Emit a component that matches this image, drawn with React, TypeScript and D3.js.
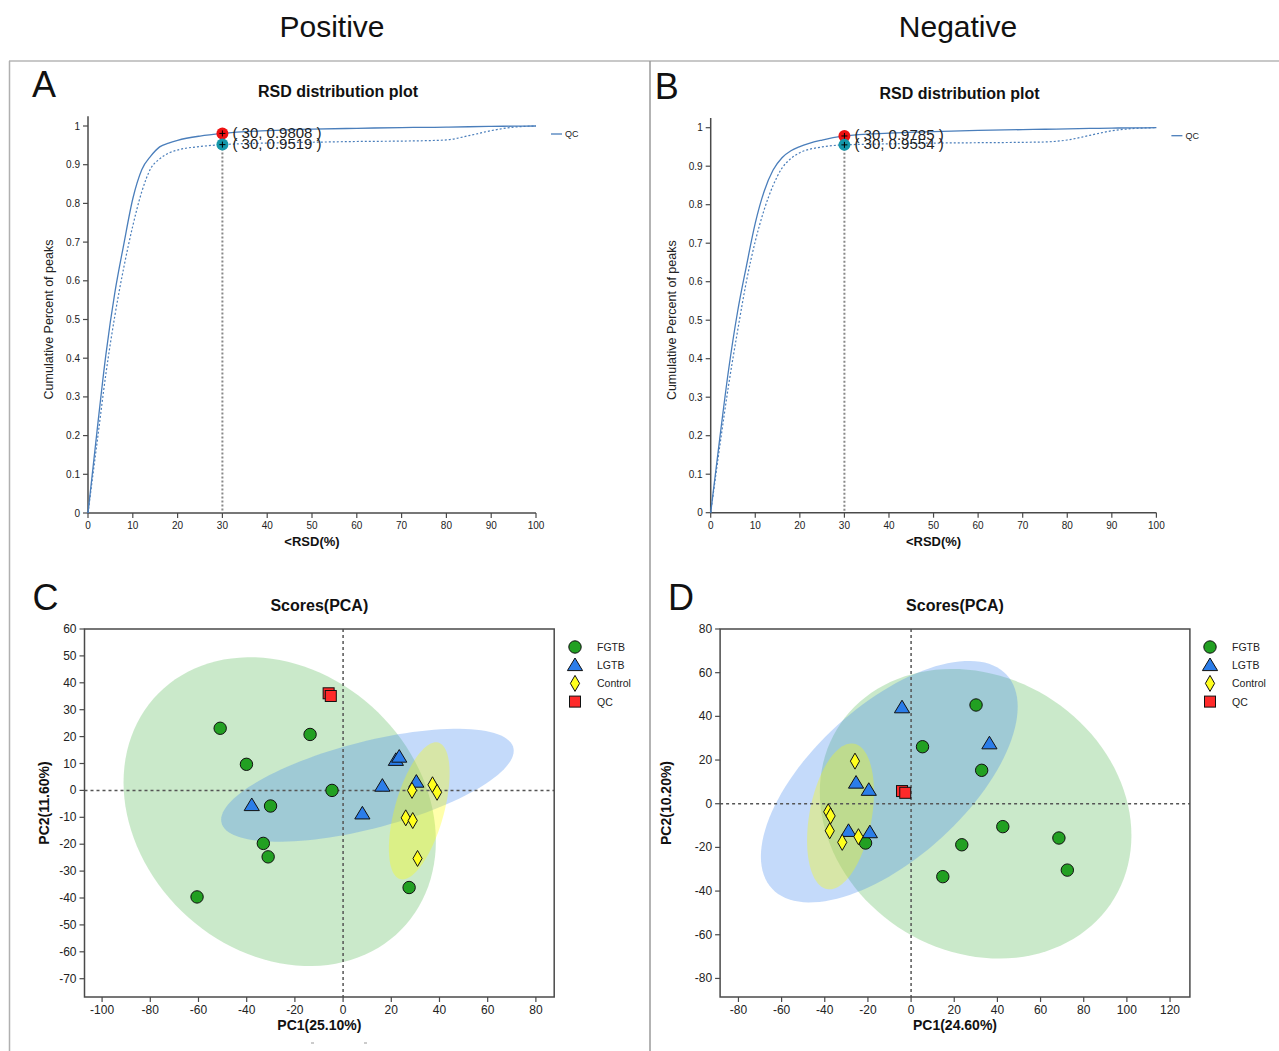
import React from 'react';
import * as d3 from 'd3';

const FONT = '"Liberation Sans", Arial, Helvetica, sans-serif';

// ---------- RSD distribution data ----------
const rsdGrid = [0, 2, 4, 6, 8, 10, 12, 14, 16, 18, 20, 25, 30, 40, 50, 60, 70, 75, 80, 85, 90, 95, 100];
const posSolid = [0, 0.21, 0.41, 0.57, 0.695, 0.812, 0.887, 0.922, 0.946, 0.956, 0.963, 0.974, 0.9808, 0.988, 0.992, 0.994, 0.996, 0.9965, 0.997, 0.998, 0.999, 0.9995, 1];
const posDotted = [0, 0.18, 0.36, 0.51, 0.635, 0.742, 0.83, 0.89, 0.915, 0.93, 0.938, 0.947, 0.9519, 0.956, 0.958, 0.96, 0.961, 0.962, 0.964, 0.975, 0.988, 0.997, 1];
const negSolid = [0, 0.19, 0.37, 0.52, 0.64, 0.752, 0.835, 0.89, 0.922, 0.94, 0.951, 0.968, 0.9785, 0.986, 0.99, 0.993, 0.995, 0.996, 0.997, 0.998, 0.999, 0.9995, 1];
const negDotted = [0, 0.17, 0.33, 0.47, 0.6, 0.705, 0.787, 0.85, 0.895, 0.92, 0.935, 0.95, 0.9554, 0.958, 0.96, 0.961, 0.962, 0.963, 0.968, 0.98, 0.992, 0.998, 1];
const rsdXTicks = [0, 10, 20, 30, 40, 50, 60, 70, 80, 90, 100];
const rsdYTicks = [0, 0.1, 0.2, 0.3, 0.4, 0.5, 0.6, 0.7, 0.8, 0.9, 1];

// ---------- PCA data (Positive) ----------
const posFGTB: [number, number][] = [[-51, 23.1], [-13.7, 20.8], [-40.1, 9.7], [-4.6, 0], [-30.1, -5.8], [-33.1, -19.7], [-31.1, -24.7], [-60.6, -39.6], [27.4, -36.1]];
const posLGTB: [number, number][] = [[-37.9, -5.5], [8, -8.6], [16.3, 1.7], [21.9, 11.3], [23.3, 12.5], [30.4, 3.2]];
const posControl: [number, number][] = [[28.6, 0], [37.1, 2.1], [39, -0.7], [26, -10.2], [28.9, -11.2], [30.9, -25.3]];
const posQC: [number, number][] = [[-6, 36.1], [-5.1, 35.1]];
const posEllipses = [
  { group: 'FGTB', cx: -26.3, cy: -7.9, sx: 64.8, sy: 57.4, r: -0.19 },
  { group: 'LGTB', cx: 10.1, cy: 1.9, sx: 60.7, sy: 21.0, r: 0.61 },
  { group: 'Control', cx: 31.6, cy: -7.6, sx: 12.6, sy: 25.5, r: 0.55 },
];
const posXTicks = [-100, -80, -60, -40, -20, 0, 20, 40, 60, 80];
const posYTicks = [60, 50, 40, 30, 20, 10, 0, -10, -20, -30, -40, -50, -60, -70];

// ---------- PCA data (Negative) ----------
const negFGTB: [number, number][] = [[30.1, 45.2], [5.3, 26.1], [32.7, 15.3], [42.5, -10.5], [23.5, -18.8], [68.5, -15.7], [72.4, -30.4], [14.7, -33.4], [-21.1, -18]];
const negLGTB: [number, number][] = [[-4.2, 44.1], [36.3, 27.6], [-25.5, 9.6], [-19.6, 6.3], [-29, -12.5], [-19.1, -13.1]];
const negControl: [number, number][] = [[-26, 19.5], [-38.4, -3.7], [-37.3, -5.6], [-37.7, -12.4], [-31.9, -17.7], [-24.4, -15.1]];
const negQC: [number, number][] = [[-4.2, 5.8], [-2.7, 5.0]];
const negEllipses = [
  { group: 'FGTB', cx: 29.9, cy: -4.6, sx: 72.2, sy: 66.3, r: -0.15 },
  { group: 'LGTB', cx: -10.1, cy: 10.1, sx: 59.5, sy: 55.3, r: 0.62 },
  { group: 'Control', cx: -32.7, cy: -5.8, sx: 15.5, sy: 33.4, r: 0.33 },
];
const negXTicks = [-80, -60, -40, -20, 0, 20, 40, 60, 80, 100, 120];
const negYTicks = [80, 60, 40, 20, 0, -20, -40, -60, -80];

const groups = ['FGTB', 'LGTB', 'Control', 'QC'];
const groupFill: Record<string, string> = { FGTB: '#22a022', LGTB: '#2b7de9', Control: '#ffff1e', QC: '#ff2a2a' };
const ellipseFill: Record<string, string> = { FGTB: '#33aa33', LGTB: '#3d85f0', Control: '#ffff00' };
const ellipseOpacity: Record<string, number> = { FGTB: 0.26, LGTB: 0.3, Control: 0.33 };

const AXIS = '#4a4a4a';
const CURVE = '#4a7ebb';

function fmtY(d: number) {
  return String(Math.round(d * 10) / 10);
}

type RsdProps = {
  label: string;
  xr: [number, number];
  yr: [number, number];
  solid: number[];
  dotted: number[];
  vSolid: number;
  vDotted: number;
};

function RsdPanel({ label, xr, yr, solid, dotted, vSolid, vDotted }: RsdProps) {
  const x = d3.scaleLinear().domain([0, 100]).range(xr);
  const y = d3.scaleLinear().domain([0, 1]).range(yr);
  const line = d3
    .line<number>()
    .x((_, i) => x(rsdGrid[i]))
    .y((d) => y(d))
    .curve(d3.curveMonotoneX);
  const cx = x(30);
  const plotCx = (xr[0] + xr[1]) / 2;
  const cross = (py: number) => (
    <g stroke="#000" strokeWidth={1}>
      <line x1={cx - 3} x2={cx + 3} y1={py} y2={py} />
      <line x1={cx} x2={cx} y1={py - 3} y2={py + 3} />
    </g>
  );
  return (
    <g fontFamily={FONT}>
      <text x={xr[0] - 56} y={y(1) - 29} fontSize={36} fill="#111">{label}</text>
      <text x={plotCx + 26} y={y(1) - 29} fontSize={16} fontWeight="bold" textAnchor="middle" fill="#111">RSD distribution plot</text>
      {/* axes */}
      <line x1={xr[0]} x2={xr[0]} y1={y(1.025)} y2={y(0)} stroke={AXIS} strokeWidth={1.5} />
      <line x1={xr[0]} x2={xr[1]} y1={y(0)} y2={y(0)} stroke={AXIS} strokeWidth={1.5} />
      {rsdYTicks.map((t) => (
        <g key={'y' + t}>
          <line x1={xr[0] - 5} x2={xr[0]} y1={y(t)} y2={y(t)} stroke={AXIS} strokeWidth={1.2} />
          <text x={xr[0] - 8} y={y(t) + 3.5} fontSize={10} textAnchor="end" fill="#222">{fmtY(t)}</text>
        </g>
      ))}
      {rsdXTicks.map((t) => (
        <g key={'x' + t}>
          <line x1={x(t)} x2={x(t)} y1={y(0)} y2={y(0) + 5} stroke={AXIS} strokeWidth={1.2} />
          <text x={x(t)} y={y(0) + 16} fontSize={10} textAnchor="middle" fill="#222">{t}</text>
        </g>
      ))}
      <text x={plotCx} y={y(0) + 33} fontSize={13} fontWeight="bold" textAnchor="middle" fill="#111">&lt;RSD(%)</text>
      <text transform={`translate(${xr[0] - 35},${y(0.5)}) rotate(-90)`} fontSize={12.5} textAnchor="middle" fill="#222">Cumulative Percent of peaks</text>
      {/* vertical guide */}
      <line x1={cx} x2={cx} y1={y(vDotted)} y2={y(0)} stroke="#888" strokeWidth={2} strokeDasharray="2,2" />
      {/* curves */}
      <path d={line(dotted) || ''} fill="none" stroke={CURVE} strokeWidth={1.2} strokeDasharray="2,2" />
      <path d={line(solid) || ''} fill="none" stroke={CURVE} strokeWidth={1.3} />
      {/* points */}
      <circle cx={cx} cy={y(vSolid)} r={6} fill="#ee1111" />
      {cross(y(vSolid))}
      <circle cx={cx} cy={y(vDotted)} r={6} fill="#1597aa" />
      {cross(y(vDotted))}
      <text x={cx + 10} y={y(vSolid) + 4.5} fontSize={15} fill="#222">{`( 30, ${vSolid.toFixed(4)} )`}</text>
      <text x={cx + 10} y={y(vDotted) + 4.5} fontSize={15} fill="#222">{`( 30, ${vDotted.toFixed(4)} )`}</text>
      {/* legend */}
      <line x1={xr[1] + 15} x2={xr[1] + 26} y1={y(1) + 8} y2={y(1) + 8} stroke={CURVE} strokeWidth={1.3} />
      <text x={xr[1] + 29} y={y(1) + 11} fontSize={9} fill="#222">QC</text>
    </g>
  );
}

function Marker({ group, x, y }: { group: string; x: number; y: number }) {
  const fill = groupFill[group];
  const common = { fill, stroke: '#111', strokeWidth: 1 };
  if (group === 'FGTB') return <circle cx={x} cy={y} r={6.2} {...common} />;
  if (group === 'LGTB')
    return <polygon points={`${x},${y - 7.2} ${x + 7.6},${y + 5.4} ${x - 7.6},${y + 5.4}`} {...common} />;
  if (group === 'Control')
    return <polygon points={`${x},${y - 8} ${x + 4.6},${y} ${x},${y + 8} ${x - 4.6},${y}`} {...common} />;
  return <rect x={x - 5.5} y={y - 5.5} width={11} height={11} {...common} />;
}

type PcaProps = {
  label: string;
  frame: { l: number; r: number; t: number; b: number };
  xDomain: [number, number];
  yDomain: [number, number];
  xTicks: number[];
  yTicks: number[];
  series: Record<string, [number, number][]>;
  ellipses: { group: string; cx: number; cy: number; sx: number; sy: number; r: number }[];
  xLabel: string;
  yLabel: string;
  legendX: number;
  yLabelX: number;
};

function PcaPanel({ label, frame, xDomain, yDomain, xTicks, yTicks, series, ellipses, xLabel, yLabel, legendX, yLabelX }: PcaProps) {
  const x = d3.scaleLinear().domain(xDomain).range([frame.l, frame.r]);
  const y = d3.scaleLinear().domain(yDomain).range([frame.b, frame.t]);
  const ts = d3.range(0, 121).map((i) => (i / 120) * Math.PI * 2);
  const ellLine = d3.line<[number, number]>().curve(d3.curveLinearClosed);
  const cxMid = (frame.l + frame.r) / 2;
  return (
    <g fontFamily={FONT}>
      <text x={frame.l - 52} y={frame.t - 19} fontSize={36} fill="#111">{label}</text>
      <text x={cxMid} y={frame.t - 18} fontSize={16} fontWeight="bold" textAnchor="middle" fill="#111">Scores(PCA)</text>
      {ellipses.map((e) => {
        const pts = ts.map((t) => {
          const dx = e.sx * Math.cos(t);
          const dy = e.sy * (e.r * Math.cos(t) + Math.sqrt(1 - e.r * e.r) * Math.sin(t));
          return [x(e.cx + dx), y(e.cy + dy)] as [number, number];
        });
        return <path key={e.group} d={ellLine(pts) || ''} fill={ellipseFill[e.group]} fillOpacity={ellipseOpacity[e.group]} stroke="none" />;
      })}
      <line x1={x(0)} x2={x(0)} y1={frame.t} y2={frame.b} stroke="#555" strokeWidth={1.5} strokeDasharray="3,3" />
      <line x1={frame.l} x2={frame.r} y1={y(0)} y2={y(0)} stroke="#555" strokeWidth={1.5} strokeDasharray="3,3" />
      <rect x={frame.l} y={frame.t} width={frame.r - frame.l} height={frame.b - frame.t} fill="none" stroke={AXIS} strokeWidth={1.5} />
      {yTicks.map((t) => (
        <g key={'y' + t}>
          <line x1={frame.l - 5} x2={frame.l} y1={y(t)} y2={y(t)} stroke={AXIS} strokeWidth={1.2} />
          <text x={frame.l - 8} y={y(t) + 4} fontSize={12} textAnchor="end" fill="#222">{t}</text>
        </g>
      ))}
      {xTicks.map((t) => (
        <g key={'x' + t}>
          <line x1={x(t)} x2={x(t)} y1={frame.b} y2={frame.b + 5} stroke={AXIS} strokeWidth={1.2} />
          <text x={x(t)} y={frame.b + 17} fontSize={12} textAnchor="middle" fill="#222">{t}</text>
        </g>
      ))}
      <text x={cxMid} y={frame.b + 33} fontSize={14} fontWeight="bold" textAnchor="middle" fill="#111">{xLabel}</text>
      <text transform={`translate(${yLabelX},${(frame.t + frame.b) / 2 - 10}) rotate(-90)`} fontSize={14} fontWeight="bold" textAnchor="middle" fill="#111">{yLabel}</text>
      {groups.map((g) =>
        series[g].map((p, i) => <Marker key={g + i} group={g} x={x(p[0])} y={y(p[1])} />)
      )}
      {groups.map((g, i) => (
        <g key={'lg' + g}>
          <Marker group={g} x={legendX} y={frame.t + 18 + i * 18.2} />
          <text x={legendX + 22} y={frame.t + 22 + i * 18.2} fontSize={10.5} fill="#222">{g}</text>
        </g>
      ))}
    </g>
  );
}

export default function App() {
  return (
    <svg
      width={1279}
      height={1051}
      viewBox="0 0 1279 1051"
      style={{ position: 'absolute', left: 0, top: 0, background: '#fff' }}
      fontFamily={FONT}
    >
      <rect x={0} y={0} width={1279} height={1051} fill="#fff" />
      <text x={332} y={37} fontSize={30} textAnchor="middle" fill="#111">Positive</text>
      <text x={958} y={37} fontSize={30} textAnchor="middle" fill="#111">Negative</text>
      {/* panel frame */}
      <line x1={9} x2={1279} y1={61} y2={61} stroke="#c8c8c8" strokeWidth={2} />
      <line x1={9.5} x2={9.5} y1={61} y2={1051} stroke="#b0b0b0" strokeWidth={1.5} />
      <line x1={650} x2={650} y1={61} y2={1051} stroke="#9a9a9a" strokeWidth={1.5} />

      <RsdPanel label="A" xr={[88, 536]} yr={[513, 126]} solid={posSolid} dotted={posDotted} vSolid={0.9808} vDotted={0.9519} />
      <RsdPanel label="B" xr={[710.7, 1156.4]} yr={[512.7, 127.7]} solid={negSolid} dotted={negDotted} vSolid={0.9785} vDotted={0.9554} />

      <PcaPanel
        label="C"
        frame={{ l: 84.5, r: 554.2, t: 629, b: 997 }}
        xDomain={[-107.3, 87.6]}
        yDomain={[-76.8, 60]}
        xTicks={posXTicks}
        yTicks={posYTicks}
        series={{ FGTB: posFGTB, LGTB: posLGTB, Control: posControl, QC: posQC }}
        ellipses={posEllipses}
        xLabel="PC1(25.10%)"
        yLabel="PC2(11.60%)"
        legendX={575}
        yLabelX={49}
      />
      <PcaPanel
        label="D"
        frame={{ l: 720.1, r: 1189.9, t: 629, b: 997 }}
        xDomain={[-88.5, 129.2]}
        yDomain={[-88.5, 80]}
        xTicks={negXTicks}
        yTicks={negYTicks}
        series={{ FGTB: negFGTB, LGTB: negLGTB, Control: negControl, QC: negQC }}
        ellipses={negEllipses}
        xLabel="PC1(24.60%)"
        yLabel="PC2(10.20%)"
        legendX={1210}
        yLabelX={671}
      />
      {/* small cut-off marks under panel C */}
      <line x1={311} x2={314} y1={1043} y2={1043} stroke="#999" strokeWidth={1} />
      <line x1={364} x2={367} y1={1043} y2={1043} stroke="#999" strokeWidth={1} />
    </svg>
  );
}
